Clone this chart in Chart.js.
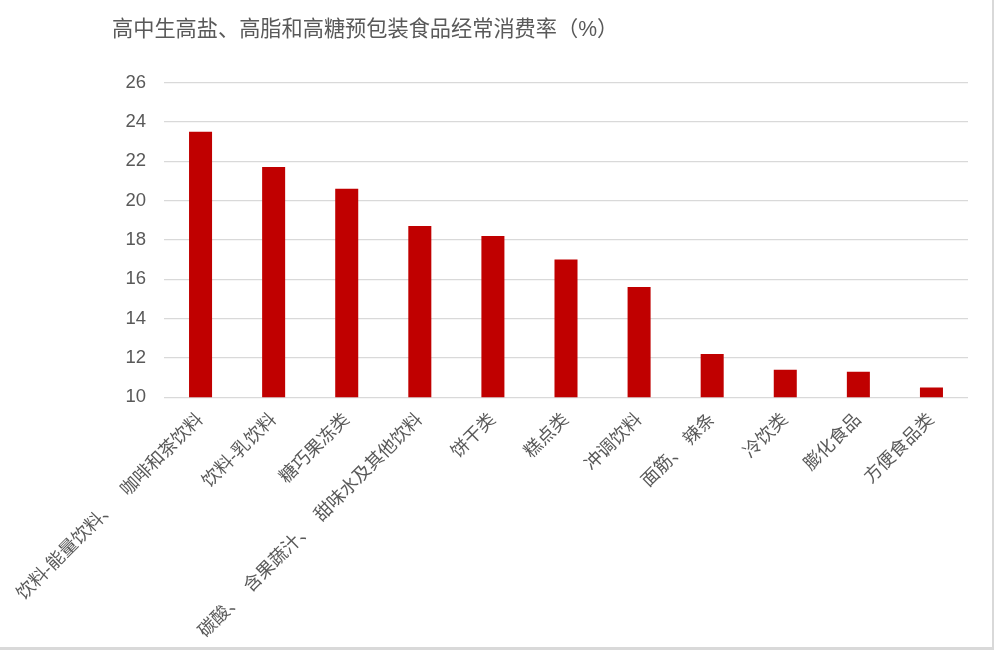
<!DOCTYPE html>
<html>
<head>
<meta charset="utf-8">
<script src="https://cdn.jsdelivr.net/npm/chart.js@4.4.0/dist/chart.umd.min.js"></script>
<style>
  html, body { margin: 0; padding: 0; background: #ffffff; }
  #wrap { width: 992px; height: 647px; border-right: 2px solid #d9d9d9; border-bottom: 3px solid #d9d9d9; }
  canvas { display: block; }
</style>
</head>
<body>
<div id="wrap"><canvas id="c" width="992" height="647"></canvas></div>
<script>
const titleText = '高中生高盐、高脂和高糖预包装食品经常消费率（%）';
const categories = [
  '饮料-能量饮料、   咖啡和茶饮料',
  '饮料-乳饮料',
  '糖巧果冻类',
  '碳酸、  含果蔬汁、  甜味水及其他饮料',
  '饼干类',
  '糕点类',
  '冲调饮料',
  '面筋、 辣条',
  '冷饮类',
  '膨化食品',
  '方便食品类'
];
const rates = [23.5, 21.7, 20.6, 18.7, 18.2, 17.0, 15.6, 12.2, 11.4, 11.3, 10.5];
const yMin = 10, yMax = 26, yStep = 2;

const FONT = '"Liberation Sans", "Noto Sans CJK SC", sans-serif';
const TXT = '#595959';

new Chart(document.getElementById('c'), {
  type: 'bar',
  data: {
    labels: categories,
    datasets: [{
      data: rates,
      backgroundColor: '#c00000',
      borderWidth: 0,
      barPercentage: 0.315,
      categoryPercentage: 1.0
    }]
  },
  options: {
    responsive: false,
    animation: false,
    layout: { padding: { left: 112, right: 24, top: 0, bottom: 0 } },
    plugins: {
      legend: { display: false },
      tooltip: { enabled: false },
      title: {
        display: true,
        text: titleText,
        align: 'start',
        color: TXT,
        font: { family: FONT, size: 21.2, weight: 'normal' },
        padding: { top: 17, bottom: 40 }
      }
    },
    scales: {
      x: {
        grid: { display: false },
        border: { display: false },
        ticks: {
          autoSkip: false,
          maxRotation: 45,
          minRotation: 45,
          color: TXT,
          font: { family: FONT, size: 18 },
          padding: 4
        },
        afterFit: (s) => { s.height = 249.7; }
      },
      y: {
        min: yMin,
        max: yMax,
        border: { display: false },
        grid: { color: '#d9d9d9', lineWidth: 1.3, drawTicks: false },
        ticks: {
          stepSize: yStep,
          color: TXT,
          font: { family: FONT, size: 18.5 },
          padding: 18
        },
        afterFit: (s) => { s.width = 52; }
      }
    }
  }
});
</script>
</body>
</html>
